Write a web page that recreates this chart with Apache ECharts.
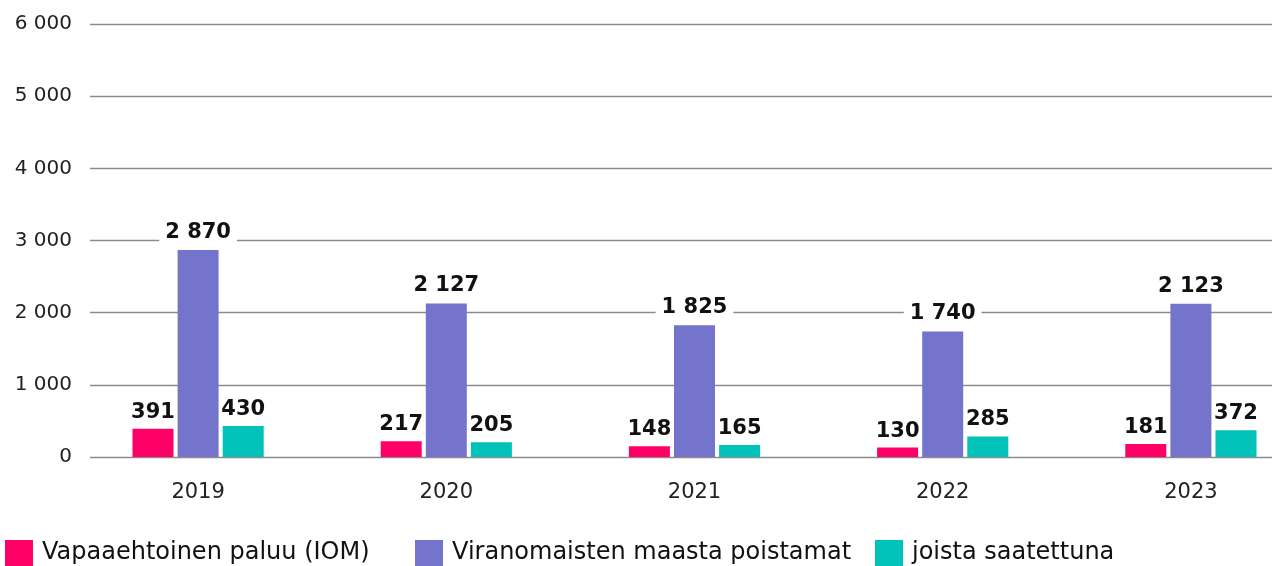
<!DOCTYPE html>
<html>
<head>
<meta charset="utf-8">
<script src="https://cdn.jsdelivr.net/npm/echarts@6/dist/echarts.min.js"></script>
<style>
  html, body { margin: 0; padding: 0; background: #fff; }
  #chart { width: 1272px; height: 566px; }
</style>
</head>
<body>
<div id="chart"></div>
<script>
const years = ["2019", "2020", "2021", "2022", "2023"];
const seriesNames = ["Vapaaehtoinen paluu (IOM)", "Viranomaisten maasta poistamat", "joista saatettuna"];
const vapaaehtoinen = [391, 217, 148, 130, 181];
const poistamat = [2870, 2127, 1825, 1740, 2123];
const saatettuna = [430, 205, 165, 285, 372];
const colors = ["#ff0066", "#7474cc", "#00c2b8"];
const legendLeft = [5, 415, 875];

const font = "DejaVu Sans";
function fmt(v) {
    return String(v).replace(/\B(?=(\d{3})+(?!\d))/g, " ");
}

const chart = echarts.init(document.querySelector("#chart"));

const seriesData = [vapaaehtoinen, poistamat, saatettuna];
const series = seriesData.map((data, i) => ({
    name: seriesNames[i],
    type: "bar",
    xAxisIndex: 0,
    yAxisIndex: 0,
    data: data,
    barWidth: 41,
    barGap: "10%",
    itemStyle: { color: colors[i] },
    label: {
        show: true,
        position: "top",
        distance: 6,
        formatter: p => fmt(p.value),
        fontFamily: font,
        fontWeight: "bold",
        fontSize: 21,
        color: "#111",
        // only the tall bars need to cut through the grid lines
        backgroundColor: i === 1 ? "#fff" : "transparent",
        padding: i === 1 ? [1, 6] : 0
    }
}));

const legends = seriesNames.map((n, i) => ({
    data: [n],
    left: legendLeft[i],
    top: 540,
    padding: 0,
    itemWidth: 28,
    itemHeight: 26,
    icon: "rect",
    itemGap: 0,
    textStyle: { fontFamily: font, fontSize: 24, color: "#111", padding: [0, 0, 0, 4] }
}));

chart.setOption({
    animation: false,
    backgroundColor: "#fff",
    legend: legends,
    grid: [
        { left: 74, width: 1241, top: 24, height: 433, outerBoundsMode: "none" },
        { left: 90, right: 0, top: 24, height: 433, outerBoundsMode: "none" }
    ],
    xAxis: [
        {
            type: "category",
            gridIndex: 0,
            data: years,
            axisLine: { show: false },
            axisTick: { show: false },
            axisLabel: { fontFamily: font, fontSize: 21, color: "#222", margin: 25 }
        },
        {
            type: "category",
            gridIndex: 1,
            data: years,
            show: false
        }
    ],
    yAxis: [
        {
            type: "value",
            gridIndex: 0,
            min: 0,
            max: 6000,
            interval: 1000,
            show: false
        },
        {
            type: "value",
            gridIndex: 1,
            min: 0,
            max: 6000,
            interval: 1000,
            axisLine: { show: false },
            axisTick: { show: false },
            splitLine: { lineStyle: { color: "#8c8c8c", width: 1.3 } },
            axisLabel: {
                fontFamily: font,
                fontSize: 20,
                color: "#222",
                margin: 18,
                formatter: v => fmt(v)
            }
        }
    ],
    series: series
});
</script>
</body>
</html>
